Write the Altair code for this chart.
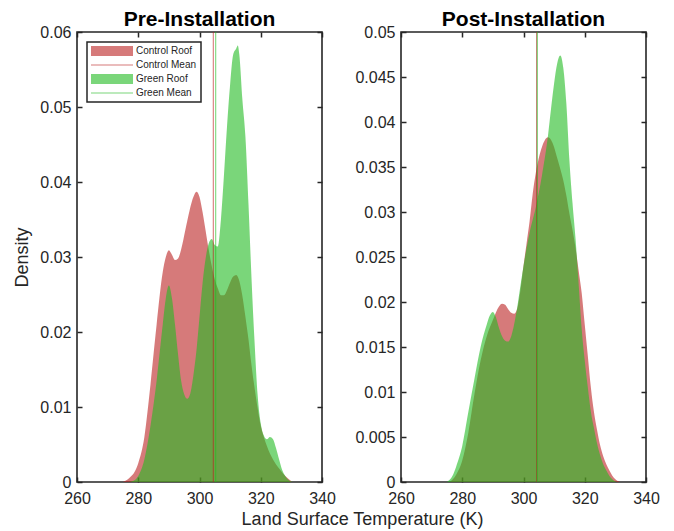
import altair as alt
import pandas as pd

# ---------------- data ----------------
x_ticks = [260, 280, 300, 320, 340]
pre_y_ticks = [0, 0.01, 0.02, 0.03, 0.04, 0.05, 0.06]
post_y_ticks = [0, 0.005, 0.01, 0.015, 0.02, 0.025, 0.03, 0.035, 0.04, 0.045, 0.05]

pre_control_t = [275, 277, 279, 280, 282, 284, 286, 288, 289, 290, 291, 292, 293, 294, 296, 298, 299, 300,
                 301, 302, 303, 304, 305, 306, 307, 308, 309, 310, 311, 312, 313, 314, 315, 316, 317, 318,
                 319, 320, 321, 322, 324, 326, 328, 330]
pre_control_d = [0, 0.0005, 0.0015, 0.0025, 0.006, 0.013, 0.021, 0.028, 0.030, 0.0309, 0.0303, 0.0296, 0.0298,
                 0.031, 0.0348, 0.0380, 0.0387, 0.0380, 0.036, 0.0335, 0.031, 0.0288, 0.027, 0.0258, 0.0249,
                 0.0249, 0.0256, 0.0266, 0.0274, 0.0276, 0.0268, 0.0248, 0.022, 0.019, 0.0155, 0.0125, 0.0098,
                 0.0075, 0.006, 0.0048, 0.003, 0.0018, 0.0008, 0.0001]

pre_green_t = [277, 279, 280, 282, 284, 286, 288, 289, 290, 291, 292, 293, 294, 295, 296, 297, 298, 299, 300,
               301, 302, 303, 304, 305, 306, 307, 308, 309, 310, 311, 312, 312.5, 313, 314, 315, 316, 317, 318,
               319, 320, 321, 322, 323, 324, 325, 326, 327, 328, 329, 330.5]
pre_green_d = [0, 0.0003, 0.0008, 0.003, 0.0075, 0.0135, 0.021, 0.0245, 0.0262, 0.0245, 0.021, 0.017, 0.0135,
               0.0117, 0.0111, 0.0118, 0.0142, 0.0175, 0.022, 0.0265, 0.0298, 0.0318, 0.0324, 0.0316, 0.0314,
               0.035, 0.041, 0.0475, 0.053, 0.057, 0.0578, 0.0582, 0.057, 0.051, 0.046, 0.037, 0.027, 0.0185,
               0.0115, 0.0078, 0.0062, 0.0057, 0.006, 0.0057, 0.0045, 0.003, 0.0016, 0.0008, 0.0003, 0]

post_control_t = [276, 278, 280, 282, 284, 286, 288, 290, 292, 293, 294, 295, 296, 297, 298, 299, 300, 301,
                  302, 303, 304, 305, 306, 307, 308, 309, 310, 311, 312, 313, 314, 315, 316, 317, 318, 319,
                  320, 321, 322, 323, 324, 325, 326, 327, 328, 329, 330, 331.5]
post_control_d = [0, 0.0008, 0.0024, 0.0055, 0.0098, 0.0135, 0.0162, 0.018, 0.0195, 0.0198, 0.0197, 0.0192,
                  0.0188, 0.0187, 0.0193, 0.0213, 0.024, 0.0265, 0.029, 0.032, 0.0343, 0.036, 0.0372, 0.038,
                  0.0383, 0.038, 0.0372, 0.036, 0.0348, 0.0335, 0.0318, 0.0298, 0.028, 0.026, 0.0235, 0.021,
                  0.0175, 0.014, 0.0105, 0.0078, 0.0058, 0.0041, 0.0029, 0.002, 0.0013, 0.0007, 0.0003, 0]

post_green_t = [275, 277, 278, 280, 282, 284, 286, 288, 289, 290, 291, 292, 293, 294, 295, 296, 297, 298, 299,
                300, 302, 304, 306, 308, 309, 310, 311, 312, 313, 314, 315, 316, 317, 318, 319, 320, 321, 322,
                323, 324, 325, 326, 327, 328, 329, 330.5]
post_green_d = [0, 0.0008, 0.0017, 0.004, 0.0078, 0.0115, 0.015, 0.0175, 0.0185, 0.0189, 0.0183, 0.0171,
                0.0162, 0.0157, 0.0156, 0.0162, 0.0176, 0.0195, 0.0218, 0.024, 0.0277, 0.0305, 0.034, 0.0385,
                0.0415, 0.0443, 0.0465, 0.0474, 0.046, 0.042, 0.0357, 0.031, 0.027, 0.022, 0.017, 0.0135,
                0.0105, 0.0078, 0.006, 0.0043, 0.003, 0.002, 0.0013, 0.0007, 0.0003, 0]

pre_means = [304.5, 305.3]    # control, green
post_means = [304.3, 304.5]   # control, green

series_names = ["Control Roof", "Control Mean", "Green Roof", "Green Mean"]
red = "#bb2121"
green = "#21bb21"
series_colors = [red, red, green, green]

FONT = "Liberation Sans"
INK = "#262626"

PATCH = "M-4.2,-1L4.2,-1L4.2,1L-4.2,1Z"
LINE = "M-4.2,-0.12L4.2,-0.12L4.2,0.12L-4.2,0.12Z"
series_shapes = [PATCH, LINE, PATCH, LINE]


def frame(t, d, name):
    return pd.DataFrame({"t": t, "d": d, "series": name})


def panel(title, ctrl, grn, means, ymax, yticks, first):
    xs = alt.Scale(domain=[260, 340], nice=False, zero=False)
    ys = alt.Scale(domain=[0, ymax], nice=False, zero=True)
    if first:
        legend = alt.Legend(
            title=None, orient="top-left", offset=10,
            labelFont=FONT, labelFontSize=10, labelColor=INK,
            symbolSize=100, symbolOpacity=0.6, symbolStrokeWidth=0,
            symbolOffset=16, labelOffset=19,
        )
    else:
        legend = None
    cscale = alt.Scale(domain=series_names, range=series_colors)
    sscale = alt.Scale(domain=series_names, range=series_shapes)

    bottom = alt.Axis(orient="bottom", offset=-5, tickSize=5, domain=False, grid=False,
                      values=x_ticks, format="d", labelPadding=8, labelFlush=False,
                      title="Land Surface Temperature (K)" if first else None,
                      titleX=285, titleAlign="center", titlePadding=4)
    left = alt.Axis(orient="left", offset=-5, tickSize=5, domain=False, grid=False,
                    values=yticks, format="~g", labelPadding=6, labelFlush=False,
                    title="Density" if first else None, titlePadding=8)
    top = alt.Axis(orient="top", offset=-5, tickSize=5, domain=False, grid=False,
                   values=x_ticks, labels=False, title=None)
    right = alt.Axis(orient="right", offset=-5, tickSize=5, domain=False, grid=False,
                     values=yticks, labels=False, title=None)

    a_ctrl = alt.Chart(ctrl).mark_area(interpolate="monotone", opacity=0.6, clip=True).encode(
        x=alt.X("t:Q", scale=xs, axis=bottom),
        y=alt.Y("d:Q", scale=ys, axis=left, stack=None),
        color=alt.Color("series:N", scale=cscale, legend=legend),
    )
    a_grn = alt.Chart(grn).mark_area(interpolate="monotone", opacity=0.6, clip=True).encode(
        x=alt.X("t:Q", scale=xs, axis=top),
        y=alt.Y("d:Q", scale=ys, axis=right, stack=None),
        color=alt.Color("series:N", scale=cscale, legend=legend),
    )
    mdf = pd.DataFrame({"t": means, "series": ["Control Mean", "Green Mean"]})
    r_ctrl = alt.Chart(mdf.iloc[[0]]).mark_rule(strokeWidth=1, opacity=0.65).encode(
        x=alt.X("t:Q", scale=xs, axis=None), color=alt.value(red))
    r_grn = alt.Chart(mdf.iloc[[1]]).mark_rule(strokeWidth=1, opacity=0.65).encode(
        x=alt.X("t:Q", scale=xs, axis=None), color=alt.value(green))
    # invisible keys so the legend can show line symbols for the means
    keys = alt.Chart(mdf).mark_point(filled=True, opacity=0, size=1).encode(
        x=alt.X("t:Q", scale=xs, axis=None),
        color=alt.Color("series:N", scale=cscale, legend=legend),
        shape=alt.Shape("series:N", scale=sscale, legend=legend),
    )

    return alt.layer(a_ctrl, a_grn, r_ctrl, r_grn, keys).properties(
        width=245, height=450, title=title
    ).resolve_axis(x="independent", y="independent")


left_panel = panel("Pre-Installation",
                   frame(pre_control_t, pre_control_d, "Control Roof"),
                   frame(pre_green_t, pre_green_d, "Green Roof"),
                   pre_means, 0.06, pre_y_ticks, True)
right_panel = panel("Post-Installation",
                    frame(post_control_t, post_control_d, "Control Roof"),
                    frame(post_green_t, post_green_d, "Green Roof"),
                    post_means, 0.05, post_y_ticks, False)

chart = alt.hconcat(left_panel, right_panel, spacing=79, bounds="flush").resolve_scale(
    color="independent", shape="independent"
).properties(
    padding={"left": 5, "top": 0, "right": 5, "bottom": 0}
).configure_view(
    stroke=INK, strokeWidth=1.6
).configure_axis(
    labelFont=FONT, labelFontSize=16, labelColor=INK,
    titleFont=FONT, titleFontSize=18, titleFontWeight="normal", titleColor=INK,
    tickColor=INK, tickWidth=1.5,
).configure_title(
    font=FONT, fontSize=21, fontWeight="bold", color="black", offset=-6, frame="group", anchor="middle"
).configure_legend(
    strokeColor=INK, strokeWidth=1.5, fillColor="white", padding=4, rowPadding=4, labelFontSize=10
)

chart.save("out.html", embed_options={"renderer": "svg", "actions": False})
